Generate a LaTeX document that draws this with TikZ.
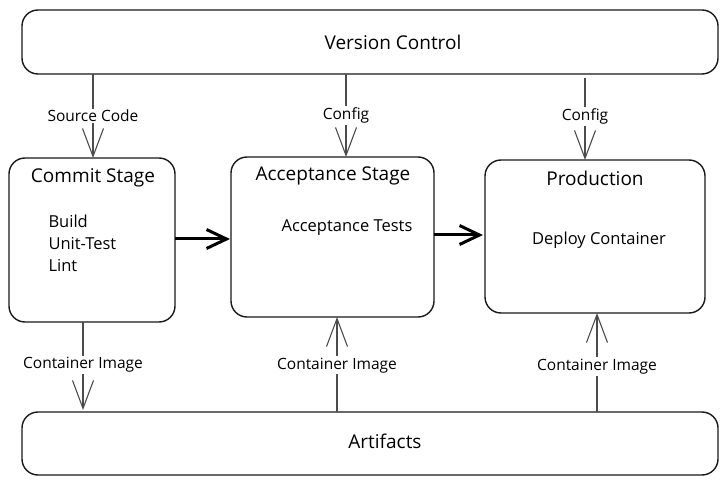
\documentclass[tikz,border=0pt]{standalone}
\usepackage{fontspec}
\setmainfont{Open Sans}
\usetikzlibrary{arrows.meta}
\begin{document}
\begin{tikzpicture}[x=1pt,y=-1pt,
  box/.style={draw=black!90,line width=1.4pt,rounded corners=16pt},
  title/.style={font=\fontsize{19}{20}\selectfont},
  body/.style={font=\fontsize{16.5}{22}\selectfont},
  lbl/.style={font=\fontsize{15.5}{16}\selectfont,fill=white,inner sep=1.5pt},
  thin/.style={draw=black!70,line width=1.1pt,-{Straight Barb[length=28pt,width=21pt,line width=1.1pt]}},
  thick/.style={draw=black,line width=3pt,-{Straight Barb[length=20pt,width=19pt,line width=3pt]}}]
\useasboundingbox (0,0) rectangle (728,486);
\fill[white] (0,0) rectangle (728,486);
% boxes
\draw[box] (22,10) rectangle (718,74);
\node[title] (vc) at (393,42) {Version Control};
\coordinate (vcb1) at (93,74);
\coordinate (vcb2) at (346,74);
\coordinate (vcb3) at (585,78);

\draw[box] (9,158) rectangle (175,322);
\node[title] (cst) at (93,178) {Commit Stage};
\node[body,align=left,anchor=north west] (cbody) at (45,211) {Build\\Unit-Test\\Lint};

\draw[box] (231,157) rectangle (434,317);
\node[title] (ast) at (333,176) {Acceptance Stage};
\node[body] (abody) at (347,228) {Acceptance Tests};

\draw[box] (485,160) rectangle (705,313);
\node[title] (pst) at (595,178) {Production};
\node[body] (pbody) at (599,240) {Deploy Container};

\draw[box] (22,412) rectangle (718,475);
\node[title] (art) at (385,441) {Artifacts};

% anchors
\coordinate (ct) at (93,158);
\coordinate (at) at (346,157);
\coordinate (pt) at (585,160);
\coordinate (cr) at (175,239);
\coordinate (al) at (230,239);
\coordinate (ar) at (434,235);
\coordinate (pl) at (483,235);
\coordinate (cb) at (83,322);
\coordinate (ab) at (337,317);
\coordinate (pb) at (597,313);
\coordinate (art1) at (83,410);
\coordinate (art2) at (337,412);
\coordinate (art3) at (597,412);

% connectors
\draw[thin] (vcb1) -- node[lbl,pos=0.5] {Source Code} (ct);
\draw[thin] (vcb2) -- node[lbl,pos=0.5] {Config} (at);
\draw[thin] (vcb3) -- node[lbl,pos=0.47] {Config} (pt);
\draw[thick] (cr) -- (al);
\draw[thick] (ar) -- (pl);
\draw[thin] (cb) -- node[lbl,pos=0.49] {Container Image} (art1);
\draw[thin] (art2) -- node[lbl,pos=0.49] {Container Image} (ab);
\draw[thin] (art3) -- node[lbl,pos=0.46] {Container Image} (pb);
\end{tikzpicture}
\end{document}
